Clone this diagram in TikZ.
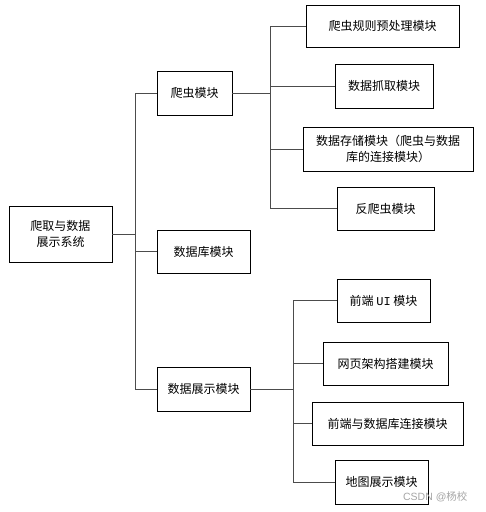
\documentclass[tikz,border=0pt]{standalone}
\usepackage{fontspec}
\setmainfont{Noto Sans CJK SC}
\newfontfamily\markfont{Liberation Sans}
\newfontfamily\monofont{Liberation Mono}
\begin{document}
\begin{tikzpicture}[x=1pt,y=-1pt,
  box/.style={draw=black, line width=0.9pt, inner sep=0pt, align=center, font=\fontsize{12}{15.5}\selectfont},
  link/.style={draw=black!70, line width=0.9pt}]
\useasboundingbox[fill=white] (0,0) rectangle (486,512);
% boxes
\node[box, minimum width=103, minimum height=56] (root) at (60.5,234) {爬取与数据\\展示系统};
\node[box, minimum width=75, minimum height=44] (craw) at (194.5,93) {爬虫模块};
\node[box, minimum width=93, minimum height=43] (db) at (203.5,251.5) {数据库模块};
\node[box, minimum width=93, minimum height=44] (show) at (203.5,389) {数据展示模块};
\node[box, minimum width=153, minimum height=42] (c1) at (382.5,26) {爬虫规则预处理模块};
\node[box, minimum width=98, minimum height=44] (c2) at (384,86) {数据抓取模块};
\node[box, minimum width=170, minimum height=44] (c3) at (388,149) {数据存储模块（爬虫与数据\\库的连接模块）};
\node[box, minimum width=97, minimum height=43] (c4) at (385.5,208.5) {反爬虫模块};
\node[box, minimum width=93, minimum height=43] (s1) at (383.5,300.5) {前端 {\monofont UI} 模块};
\node[box, minimum width=125, minimum height=43] (s2) at (385.5,363.5) {网页架构搭建模块};
\node[box, minimum width=151, minimum height=43] (s3) at (387.5,423.5) {前端与数据库连接模块};
\node[box, minimum width=93, minimum height=44] (s4) at (381.5,482) {地图展示模块};
\node[text=black!35, font=\markfont\fontsize{10.5}{12}\selectfont, anchor=east] (mark) at (471,497) {CSDN @\fontspec{Noto Sans CJK SC}杨校};
% trunk coordinates
\coordinate (tr) at (135,0);
\coordinate (cr) at (270,0);
\coordinate (sr) at (293,0);
% connectors
\draw[link] (root.east) -- (root.east -| tr);
\draw[link] (craw.west -| tr) -- (show.west -| tr);
\draw[link] (craw.west -| tr) -- (craw.west);
\draw[link] (db.west -| tr) -- (db.west);
\draw[link] (show.west -| tr) -- (show.west);
\draw[link] (craw.east) -- (craw.east -| cr);
\draw[link] (c1.west -| cr) -- (c4.west -| cr);
\draw[link] (c1.west -| cr) -- (c1.west);
\draw[link] (c2.west -| cr) -- (c2.west);
\draw[link] (c3.west -| cr) -- (c3.west);
\draw[link] (c4.west -| cr) -- (c4.west);
\draw[link] (show.east) -- (show.east -| sr);
\draw[link] (s1.west -| sr) -- (s4.west -| sr);
\draw[link] (s1.west -| sr) -- (s1.west);
\draw[link] (s2.west -| sr) -- (s2.west);
\draw[link] (s3.west -| sr) -- (s3.west);
\draw[link] (s4.west -| sr) -- (s4.west);
\end{tikzpicture}
\end{document}
